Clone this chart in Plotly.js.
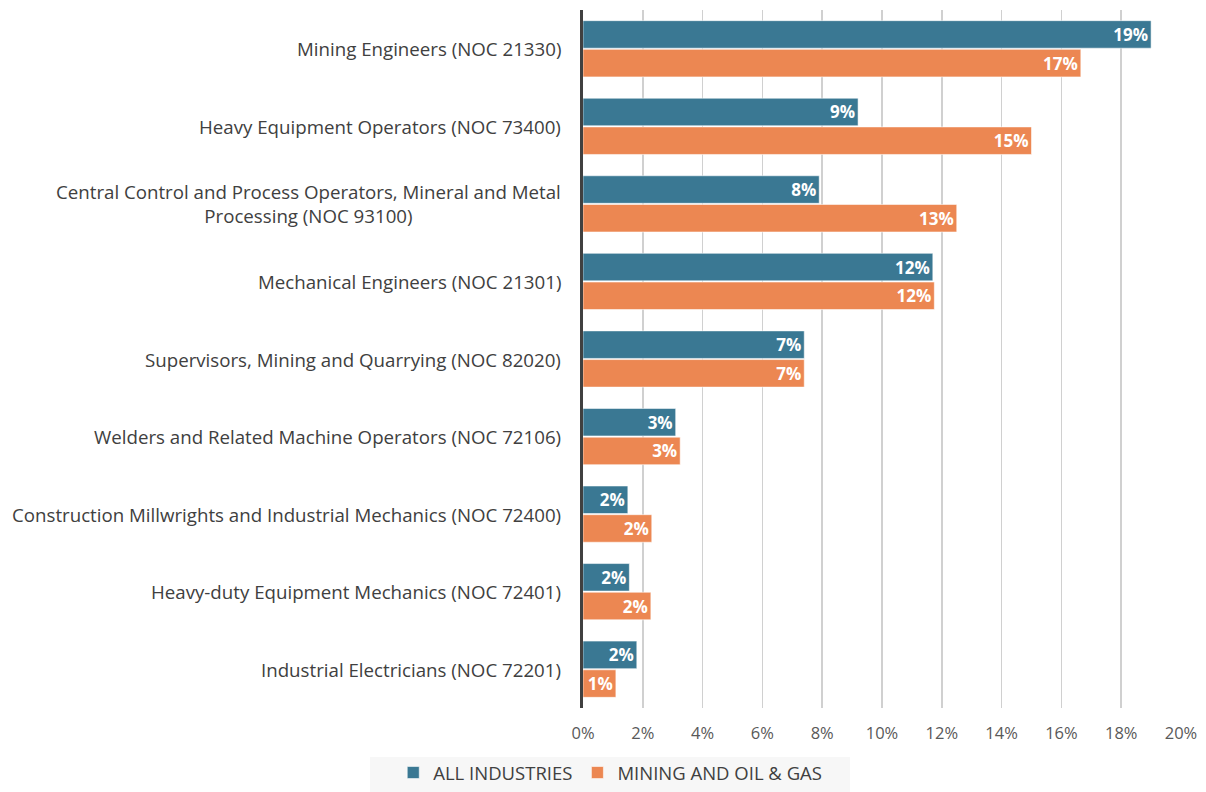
<!DOCTYPE html>
<html>
<head>
<meta charset="utf-8">
<script src="https://cdn.plot.ly/plotly-3.0.1.min.js"></script>
<style>html,body{margin:0;padding:0;background:#fff;}#chart{width:1206px;height:792px;}</style>
</head>
<body>
<div id="chart"></div>
<script>
var categories = [
  "Mining Engineers (NOC 21330)",
  "Heavy Equipment Operators (NOC 73400)",
  "Central Control and Process Operators, Mineral and Metal<br>Processing (NOC 93100)",
  "Mechanical Engineers (NOC 21301)",
  "Supervisors, Mining and Quarrying (NOC 82020)",
  "Welders and Related Machine Operators (NOC 72106)",
  "Construction Millwrights and Industrial Mechanics (NOC 72400)",
  "Heavy-duty Equipment Mechanics (NOC 72401)",
  "Industrial Electricians (NOC 72201)"
];
var allIndustries = [19.0, 9.2, 7.9, 11.7, 7.4, 3.1, 1.5, 1.55, 1.8];
var miningOilGas = [16.65, 15.0, 12.5, 11.75, 7.4, 3.25, 2.3, 2.27, 1.1];
var seriesNames = ["ALL INDUSTRIES", "MINING AND OIL & GAS"];
var xTickVals = [0, 2, 4, 6, 8, 10, 12, 14, 16, 18, 20];
var xTickText = ["0%", "2%", "4%", "6%", "8%", "10%", "12%", "14%", "16%", "18%", "20%"];

var FONT = "'Open Sans', Lato, sans-serif";

function barTrace(name, vals, color) {
  return {
    type: "bar",
    orientation: "h",
    name: name,
    y: categories,
    x: vals,
    marker: { color: color, line: { color: "rgba(255,255,255,0.55)", width: 1 } },
    texttemplate: "%{x:.0f}%",
    textposition: "inside",
    insidetextanchor: "end",
    constraintext: "none",
    textfont: { color: "#ffffff", size: 17, family: FONT, weight: "bold" },
    hoverinfo: "x+y"
  };
}

var data = [
  barTrace(seriesNames[0], allIndustries, "#3a7893"),
  barTrace(seriesNames[1], miningOilGas, "#ec8752")
];

var annotations = categories.map(function (c) {
  return {
    xref: "paper", yref: "y", x: 0, y: c, xshift: -20,
    xanchor: "right", yanchor: "middle", align: "center",
    text: c, showarrow: false,
    font: { family: FONT, size: 18.7, color: "#404040" }
  };
});

var layout = {
  width: 1206, height: 792,
  margin: { l: 583, r: 25, t: 10, b: 84 },
  paper_bgcolor: "#ffffff", plot_bgcolor: "#ffffff",
  barmode: "group", bargap: 0.26, bargroupgap: 0.04,
  font: { family: FONT, color: "#404040" },
  xaxis: {
    range: [0, 20], tickvals: xTickVals, ticktext: xTickText,
    showgrid: true, gridcolor: "#d0d0d0", gridwidth: 1.5,
    zeroline: false, showline: false, ticks: "",
    ticklabelstandoff: 13,
    tickfont: { family: FONT, size: 16.5, color: "#595959" },
    fixedrange: true
  },
  yaxis: {
    autorange: "reversed", showticklabels: false, ticks: "",
    showgrid: false, showline: true, linecolor: "#404040", linewidth: 3,
    fixedrange: true
  },
  annotations: annotations,
  shapes: [{
    type: "rect", xref: "paper", yref: "paper", layer: "below",
    x0: -0.356, x1: 0.4465, y0: -0.1203, y1: -0.0702,
    fillcolor: "#f7f7f7", line: { width: 0 }
  }],
  showlegend: true,
  legend: {
    orientation: "h", xref: "container", yref: "container",
    x: 0.506, xanchor: "center", y: 0.0, yanchor: "bottom",
    bgcolor: "rgba(0,0,0,0)", font: { family: FONT, size: 18.5, color: "#404040" },
    itemwidth: 30, traceorder: "normal"
  }
};

Plotly.newPlot("chart", data, layout, { displayModeBar: false, staticPlot: true });
</script>
</body>
</html>
